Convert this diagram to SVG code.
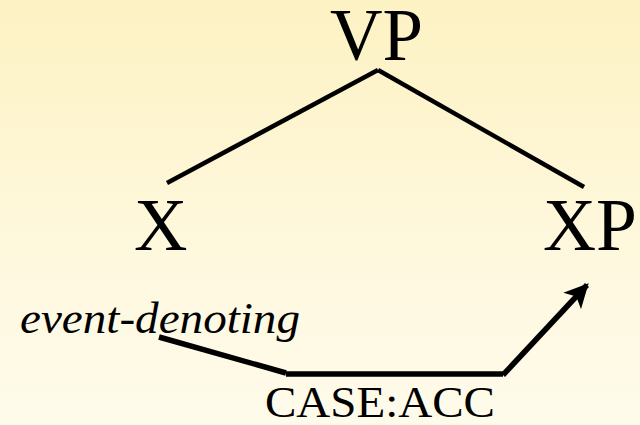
<svg xmlns="http://www.w3.org/2000/svg" width="640" height="425" viewBox="0 0 640 425">
  <defs>
    <linearGradient id="bg" x1="0" y1="0" x2="0" y2="1">
      <stop offset="0" stop-color="#fdf2c3"/>
      <stop offset="0.6" stop-color="#fef8de"/>
      <stop offset="1" stop-color="#fffbeb"/>
    </linearGradient>
    <marker id="arrow" viewBox="0 0 10 10" refX="9" refY="5" markerWidth="4.4" markerHeight="4.4" markerUnits="strokeWidth" orient="auto">
      <path d="M0,0 L10,5 L0,10 L2.5,5 Z" fill="#000"/>
    </marker>
  </defs>
  <style>
    text { font-family: "Liberation Serif", Tinos, "Times New Roman", Times, "DejaVu Serif", "Noto Serif", serif; fill: #000; }
    .big { font-size: 74px; }
    .it { font-size: 45px; font-style: italic; }
    .mid { font-size: 45px; }
    .tree { stroke: #000; stroke-width: 4.5; fill: none; }
    .conn { stroke: #000; stroke-width: 5.5; fill: none; }
  </style>
  <rect x="0" y="0" width="640" height="425" fill="url(#bg)"/>

  <g id="node-VP"><text class="big" x="330" y="60" textLength="93" lengthAdjust="spacingAndGlyphs">VP</text></g>
  <g id="node-X"><text class="big" x="134" y="250">X</text></g>
  <g id="node-XP"><text class="big" x="543" y="250" textLength="94" lengthAdjust="spacingAndGlyphs">XP</text></g>
  <g id="node-event"><text class="it" x="20" y="333" textLength="280" lengthAdjust="spacingAndGlyphs">event-denoting</text></g>
  <g id="node-case"><text class="mid" x="265" y="417" textLength="230" lengthAdjust="spacingAndGlyphs">CASE:ACC</text></g>

  <g id="connectors">
    <line class="tree" x1="167" y1="183" x2="378" y2="70"/>
    <line class="tree" x1="378" y1="70" x2="584" y2="187"/>
    <line class="conn" x1="159" y1="337" x2="286" y2="373"/>
    <line class="conn" x1="286" y1="374" x2="503" y2="374"/>
    <line class="conn" x1="503" y1="375" x2="587" y2="285" marker-end="url(#arrow)"/>
  </g>
</svg>
